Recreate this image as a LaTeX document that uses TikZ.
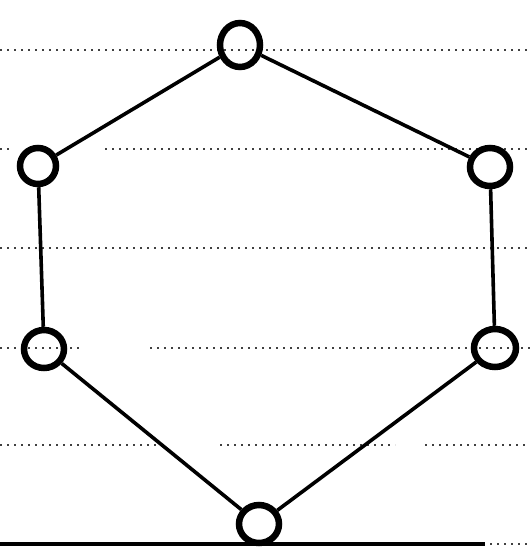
\documentclass[tikz,border=0pt]{standalone}
\usetikzlibrary{shapes.geometric}
\begin{document}
\begin{tikzpicture}[x=1pt,y=-1pt,
  vert/.style={draw=black, ellipse, line width=6.5pt, inner sep=0pt},
  edge/.style={draw=black, line width=3.6pt},
  rule/.style={draw=black!75, line width=2pt, dash pattern=on 2pt off 5pt}]
\useasboundingbox (0,0) rectangle (530,547);
% ruled paper lines
\draw[rule] (0,50) -- (530,50);
\draw[rule] (0,149) -- (10,149);
\draw[rule] (105,149) -- (530,149);
\draw[rule] (0,248) -- (530,248);
\draw[rule] (0,348) -- (80,348);
\draw[rule] (150,348) -- (530,348);
\draw[rule] (0,445) -- (165,445);
\draw[rule] (220,445) -- (395,445);
\draw[rule] (425,445) -- (530,445);
\draw[rule] (490,544) -- (530,544);
\draw[black, line width=4pt] (0,544) -- (485,544);
% vertices
\node[vert, minimum width=40pt, minimum height=44pt] (t) at (240,45) {};
\node[vert, minimum width=36pt, minimum height=36pt] (lt) at (38,166) {};
\node[vert, minimum width=40pt, minimum height=38pt] (rt) at (490,167) {};
\node[vert, minimum width=40pt, minimum height=38pt] (lb) at (44,349) {};
\node[vert, minimum width=42pt, minimum height=38pt] (rb) at (495,348) {};
\node[vert, minimum width=40pt, minimum height=38pt] (b) at (259,524) {};
% edges
\draw[edge] (t) -- (lt);
\draw[edge] (t) -- (rt);
\draw[edge] (lt) -- (lb);
\draw[edge] (rt) -- (rb);
\draw[edge] (lb) -- (b);
\draw[edge] (rb) -- (b);
\end{tikzpicture}
\end{document}
